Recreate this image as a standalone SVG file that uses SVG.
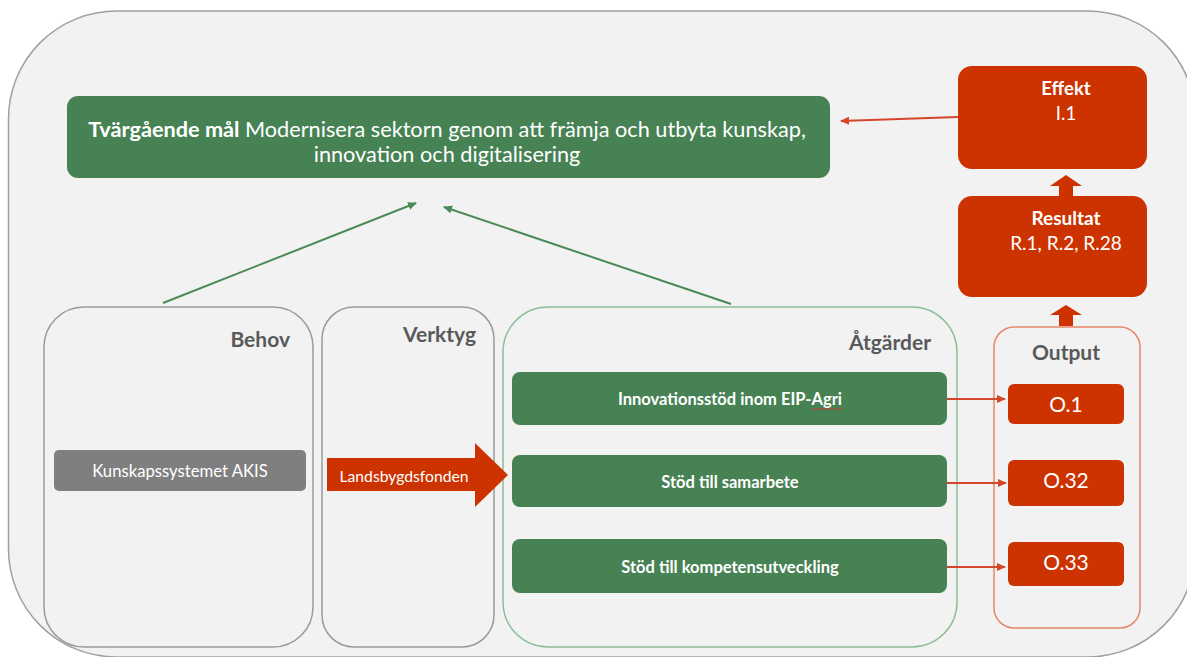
<svg xmlns="http://www.w3.org/2000/svg" width="1187" height="657" viewBox="0 0 1187 657">
<defs>
<style>
text{font-family:Lato,"Open Sans","Liberation Sans",sans-serif}
.w{fill:#ffffff}
.b{font-weight:bold}
.hd{fill:#595959;font-weight:bold;font-size:21px}
.panel{fill:#f2f2f2;stroke:#9a9a9a;stroke-width:1.5}
.green{fill:#478254}
.red{fill:#cc3300}
.gline{stroke:#4a8a57;stroke-width:2;fill:none}
.rline{stroke:#d4472a;stroke-width:2;fill:none}
</style>
<marker id="ga" markerWidth="10" markerHeight="10" refX="8" refY="5" orient="auto" markerUnits="userSpaceOnUse">
<path d="M0,1 L9,5 L0,9 Z" fill="#4a8a57"/>
</marker>
<marker id="ra" markerWidth="10" markerHeight="10" refX="8" refY="5" orient="auto" markerUnits="userSpaceOnUse">
<path d="M0,1 L9,5 L0,9 Z" fill="#d4472a"/>
</marker>
</defs>

<rect id="background" x="8.5" y="11" width="1187" height="646" rx="108" ry="108" fill="#f2f2f2" stroke="#a0a0a0" stroke-width="1.5"/>

<g id="goal">
<rect x="67" y="96" width="763" height="82" rx="11" class="green"/>
<text x="447" y="137" text-anchor="middle" font-size="21.7" class="w"><tspan font-weight="bold">Tvärgående mål</tspan> Modernisera sektorn genom att främja och utbyta kunskap,</text>
<text x="447" y="162" text-anchor="middle" font-size="21.7" class="w">innovation och digitalisering</text>
</g>

<g id="effekt">
<rect x="958" y="66" width="189" height="103" rx="14" class="red"/>
<text x="1066" y="95" text-anchor="middle" font-size="18.5" class="w b">Effekt</text>
<text x="1066" y="120" text-anchor="middle" font-size="18.5" class="w">I.1</text>
</g>

<g id="resultat">
<rect x="958" y="196" width="189" height="101" rx="14" class="red"/>
<text x="1066" y="225" text-anchor="middle" font-size="19" class="w b">Resultat</text>
<text x="1066" y="250" text-anchor="middle" font-size="19" class="w">R.1, R.2, R.28</text>
</g>

<g id="behov">
<rect x="44" y="307" width="269" height="340" rx="40" class="panel"/>
<text x="290" y="347" text-anchor="end" class="hd">Behov</text>
</g>

<g id="akis">
<rect x="54" y="450" width="252" height="41" rx="5" fill="#7f7f7f"/>
<text x="180" y="477" text-anchor="middle" font-size="16.7" class="w">Kunskapssystemet AKIS</text>
</g>

<g id="verktyg">
<rect x="322" y="307" width="172" height="340" rx="32" class="panel"/>
<text x="476" y="342" text-anchor="end" class="hd">Verktyg</text>
</g>

<g id="atgarder">
<rect x="503" y="307" width="454" height="340" rx="45" fill="#f2f2f2" stroke="#8cbf98" stroke-width="1.5"/>
<text x="931" y="350" text-anchor="end" class="hd">Åtgärder</text>
</g>

<g id="landsbygdsfonden">
<path d="M327,458 H475 V443 L508,475 L475,507 V491 H327 Z" fill="#cc3300"/>
<text x="404" y="482" text-anchor="middle" font-size="15.7" class="w">Landsbygdsfonden</text>
</g>

<g id="innovationsstod">
<rect x="512" y="372" width="435" height="53" rx="8" class="green"/>
<text x="730" y="405" text-anchor="middle" font-size="16.5" class="w b">Innovationsstöd inom EIP-Agri</text>
<path d="M811,409 q1,-1.2 2,0 t2,0 t2,0 t2,0 t2,0 t2,0 t2,0 t2,0 t2,0 t2,0 t2,0 t2,0 t2,0 t2,0 t2,0 t2,0" fill="none" stroke="#e03030" stroke-width="0.8"/>
</g>

<g id="samarbete">
<rect x="512" y="455" width="435" height="52" rx="8" class="green"/>
<text x="730" y="488" text-anchor="middle" font-size="16.5" class="w b">Stöd till samarbete</text>
</g>

<g id="kompetens">
<rect x="512" y="539" width="435" height="54" rx="8" class="green"/>
<text x="730" y="573" text-anchor="middle" font-size="16.5" class="w b">Stöd till kompetensutveckling</text>
</g>

<g id="output">
<rect x="994" y="327" width="146" height="301" rx="20" fill="#f2f2f2" stroke="#e8866a" stroke-width="1.5"/>
<text x="1066" y="360" text-anchor="middle" class="hd">Output</text>
</g>

<g id="o1">
<rect x="1008" y="384" width="116" height="40" rx="6" class="red"/>
<text x="1066" y="412" text-anchor="middle" font-size="21" class="w">O.1</text>
</g>

<g id="o32">
<rect x="1008" y="460" width="116" height="46" rx="6" class="red"/>
<text x="1066" y="488" text-anchor="middle" font-size="21" class="w">O.32</text>
</g>

<g id="o33">
<rect x="1008" y="542" width="116" height="44" rx="6" class="red"/>
<text x="1066" y="570" text-anchor="middle" font-size="21" class="w">O.33</text>
</g>

<g id="connectors">
<line x1="163" y1="303" x2="416" y2="203" class="gline" marker-end="url(#ga)"/>
<line x1="731" y1="304" x2="444" y2="207" class="gline" marker-end="url(#ga)"/>
<line x1="958" y1="117" x2="841" y2="121" class="rline" marker-end="url(#ra)"/>
<line x1="947" y1="399" x2="1005" y2="399" class="rline" marker-end="url(#ra)"/>
<line x1="947" y1="483" x2="1006" y2="483" class="rline" marker-end="url(#ra)"/>
<line x1="947" y1="567" x2="1005" y2="567" class="rline" marker-end="url(#ra)"/>
<path d="M1059,196 V186 H1050 L1066,175 L1082,186 H1073 V196 Z" fill="#cc3300"/>
<path d="M1059,326 V315 H1050 L1066,305 L1082,315 H1073 V326 Z" fill="#cc3300"/>
</g>
</svg>
